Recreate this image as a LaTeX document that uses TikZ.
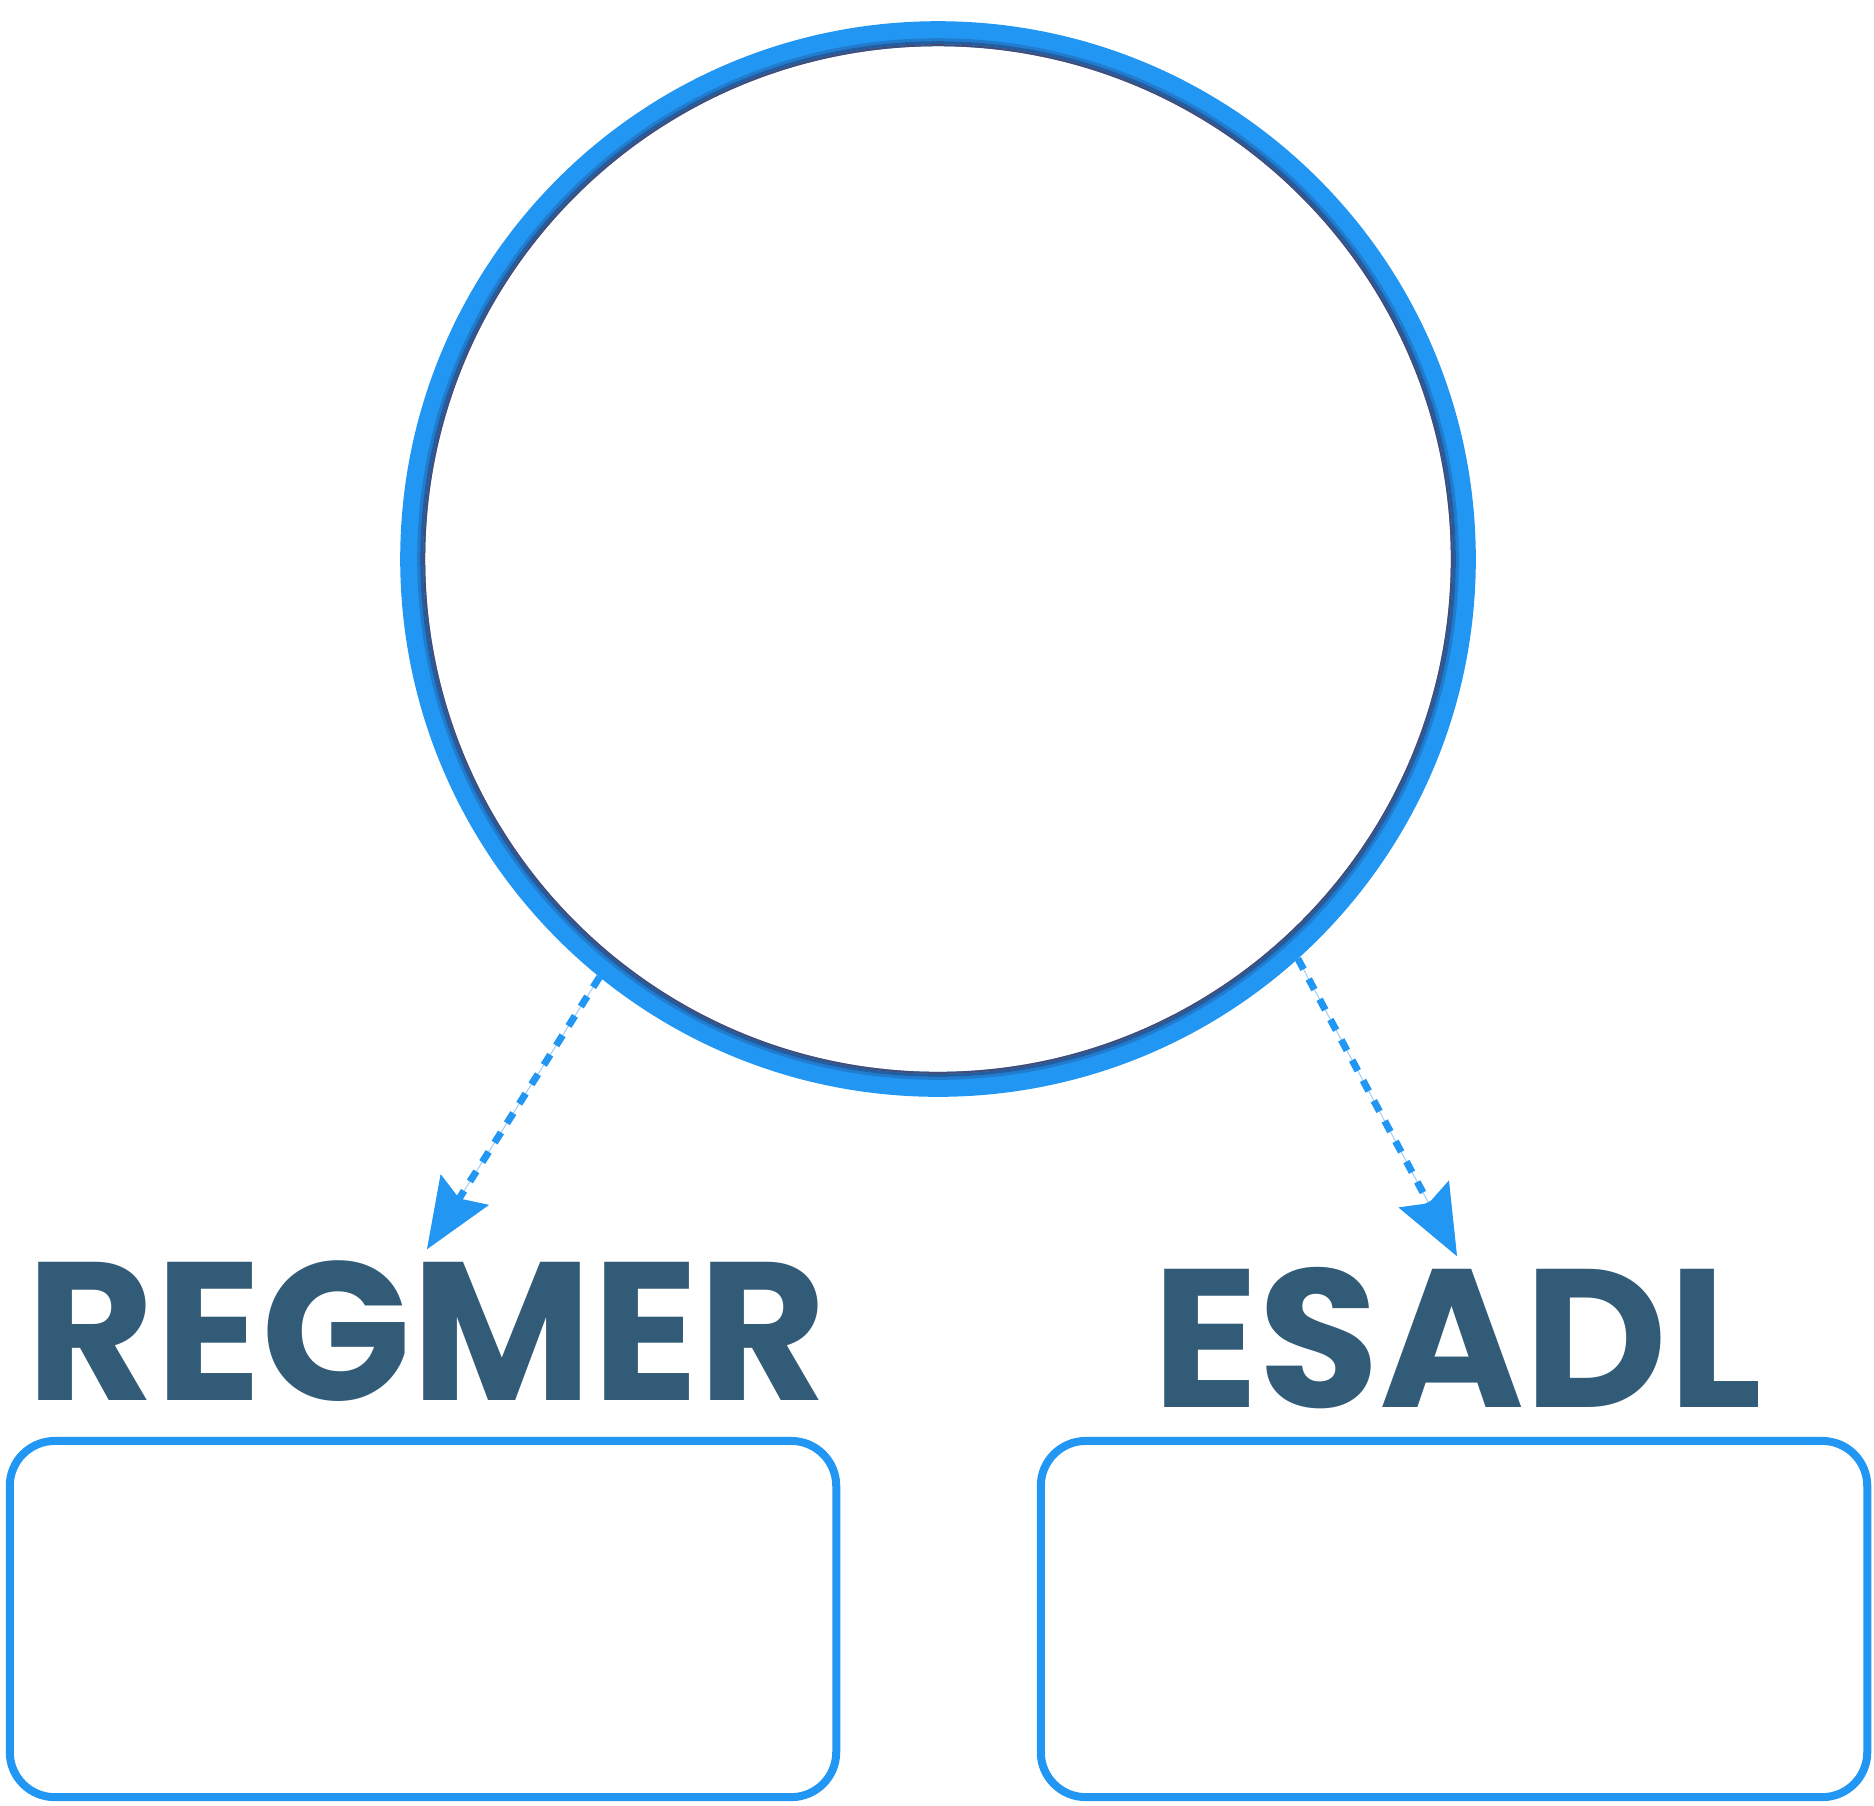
\documentclass[tikz,border=0pt]{standalone}
\usepackage{fontspec}
\setmainfont{Poppins}
\usepackage{tikz}
\usetikzlibrary{arrows.meta}
\definecolor{ringblue}{RGB}{33,150,243}
\definecolor{ringshade}{RGB}{38,45,92}
\definecolor{labelslate}{RGB}{50,91,120}
\definecolor{dashlight}{RGB}{160,205,245}
\tikzstyle{hubring}=[circle, draw=ringblue, line width=0.25cm, minimum size=10.5cm, inner sep=0pt]
\tikzstyle{slot}=[draw=ringblue, line width=0.08cm, rounded corners=0.45cm, minimum width=8.26cm, minimum height=3.56cm, inner sep=0pt]
\tikzstyle{heading}=[text=labelslate, font=\fontsize{56}{60}\selectfont\bfseries, inner sep=0pt, text height=1.5cm, text depth=0pt, anchor=base]
\tikzstyle{link}=[draw=ringblue, line width=0.07cm, dash pattern=on 0.12cm off 0.11cm, -{Stealth[length=0.7cm,width=0.56cm,inset=0.1cm]}, preaction={draw=dashlight, line width=0.01cm, solid}]

\begin{document}
\begin{tikzpicture}[x=0.01cm,y=-0.01cm]
	\useasboundingbox (0,0) rectangle (1874,1805);
	\node[hubring] (hub) at (938,559) {};
	\draw[ringblue!75!ringshade, line width=0.03cm] (hub.center) circle [radius=5.19cm];
	\draw[ringblue!45!ringshade, line width=0.03cm] (hub.center) circle [radius=5.16cm];
	\draw[ringshade!85, line width=0.02cm] (hub.center) circle [radius=5.135cm];
	\node[slot] (leftslot) at (423,1619) {};
	\node[slot] (rightslot) at (1454,1619) {};
	\node[heading] (regmer) at (427,1400) {REGMER};
	\node[heading] (esadl) at (1457,1407) {ESADL};
	\draw[link] (hub.231) -- (regmer.north);
	\draw[link] (hub.312) -- (esadl.north);
\end{tikzpicture}
\end{document}
